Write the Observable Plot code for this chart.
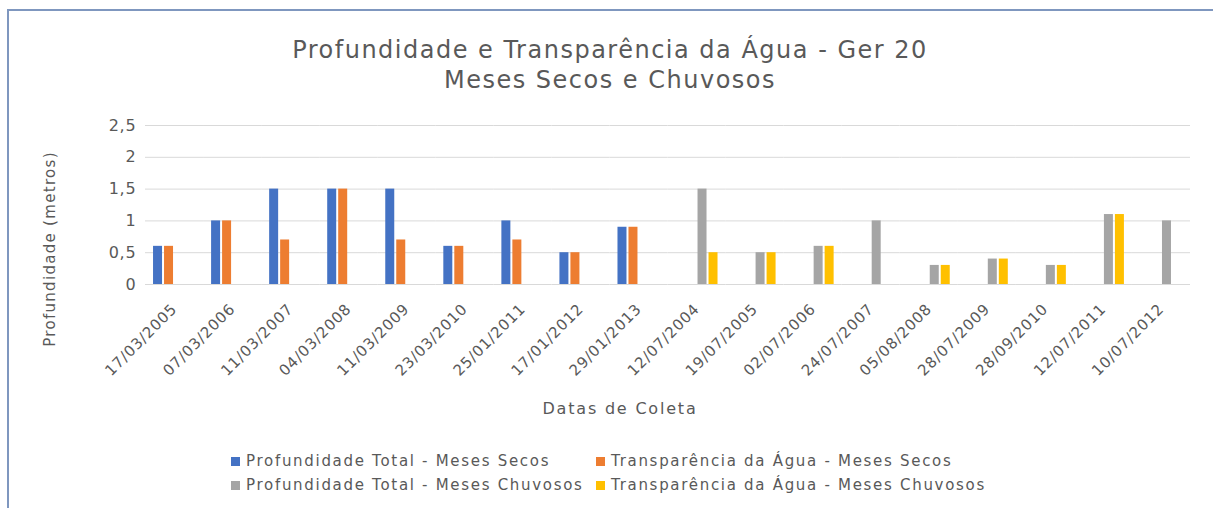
<!DOCTYPE html>
<html>
<head>
<meta charset="utf-8">
<script src="https://cdn.jsdelivr.net/npm/d3@7"></script>
<script src="https://cdn.jsdelivr.net/npm/@observablehq/plot@0.6"></script>
<style>
  html, body { margin: 0; padding: 0; background: #ffffff; }
  #wrap { position: relative; width: 1213px; height: 508px; overflow: hidden; font-family: "DejaVu Sans", sans-serif; color: #595959; }
  #frame { position: absolute; left: 7px; top: 9px; width: 1220px; height: 520px; border-top: 2px solid #7f97bf; border-left: 2px solid #7f97bf; box-sizing: border-box; }
  .title { position: absolute; left: 0; width: 1220px; text-align: center; font-size: 24px; letter-spacing: 1.5px; color: #595959; white-space: nowrap; }
  #ylabel { position: absolute; left: 50px; top: 249px; transform: translate(-50%, -50%) rotate(-90deg); font-size: 15px; letter-spacing: 1.3px; white-space: nowrap; }
  #xlabel { position: absolute; left: 620px; top: 408px; transform: translate(-50%, -50%); font-size: 16px; letter-spacing: 1.8px; white-space: nowrap; }
  #chart { position: absolute; left: 0; top: 110px; }
  #chart svg text { letter-spacing: 0.8px; }
  #legend { position: absolute; left: 231px; top: 452px; display: grid; grid-template-columns: 365px auto; row-gap: 6px; font-size: 15px; letter-spacing: 1.7px; }
  .item { display: flex; align-items: center; white-space: nowrap; }
  .sw { width: 9px; height: 9px; margin-right: 6px; display: inline-block; }
</style>
</head>
<body>
<div id="wrap">
  <div id="frame"></div>
  <div class="title" style="top:36px">Profundidade e Transparência da Água - Ger 20</div>
  <div class="title" style="top:66px">Meses Secos e Chuvosos</div>
  <div id="ylabel">Profundidade (metros)</div>
  <div id="chart"></div>
  <div id="xlabel">Datas de Coleta</div>
  <div id="legend"></div>
</div>
<script>
// Categories (collection dates)
const dates = [
  "17/03/2005", "07/03/2006", "11/03/2007", "04/03/2008", "11/03/2009",
  "23/03/2010", "25/01/2011", "17/01/2012", "29/01/2013",
  "12/07/2004", "19/07/2005", "02/07/2006", "24/07/2007", "05/08/2008",
  "28/07/2009", "28/09/2010", "12/07/2011", "10/07/2012"
];
// Series
const seriesNames = [
  "Profundidade Total - Meses Secos",
  "Transparência da Água - Meses Secos",
  "Profundidade Total - Meses Chuvosos",
  "Transparência da Água - Meses Chuvosos"
];
const profSecos = [0.6, 1.0, 1.5, 1.5, 1.5, 0.6, 1.0, 0.5, 0.9, null, null, null, null, null, null, null, null, null];
const transpSecos = [0.6, 1.0, 0.7, 1.5, 0.7, 0.6, 0.7, 0.5, 0.9, null, null, null, null, null, null, null, null, null];
const profChuvosos = [null, null, null, null, null, null, null, null, null, 1.5, 0.5, 0.6, 1.0, 0.3, 0.4, 0.3, 1.1, 1.0];
const transpChuvosos = [null, null, null, null, null, null, null, null, null, 0.5, 0.5, 0.6, null, 0.3, 0.4, 0.3, 1.1, null];
const seriesColors = ["#4472C4", "#ED7D31", "#A5A5A5", "#FFC000"];
const yTicks = [0, 0.5, 1, 1.5, 2, 2.5];

const seriesValues = [profSecos, transpSecos, profChuvosos, transpChuvosos];
const rows = [];
dates.forEach((d, i) => {
  seriesValues.forEach((vals, s) => {
    if (vals[i] != null) rows.push({date: d, series: seriesNames[s], value: vals[i]});
  });
});

const fmt = v => String(v).replace(".", ",");

const plot = Plot.plot({
  width: 1213,
  height: 320,
  marginLeft: 145,
  marginRight: 23,
  marginTop: 15,
  marginBottom: 146,
  style: {fontFamily: "DejaVu Sans, sans-serif", fontSize: "15px", color: "#595959", background: "transparent", overflow: "visible"},
  facet: {data: rows, x: "date"},
  fx: {domain: dates, paddingInner: 0, paddingOuter: 0, round: false, label: null, tickRotate: -45, tickSize: 0, tickPadding: 22},
  x: {domain: seriesNames, paddingInner: 0, paddingOuter: 0.64, round: false, axis: null},
  y: {domain: [0, 2.5], ticks: yTicks, tickFormat: fmt, tickSize: 0, tickPadding: 9, label: null},
  color: {domain: seriesNames, range: seriesColors},
  marks: [
    Plot.ruleY(yTicks, {stroke: "#d9d9d9", strokeWidth: 1}),
    Plot.barY(rows, {x: "series", y: "value", fill: "series", insetLeft: 1, insetRight: 1})
  ]
});
d3.select(plot).selectAll("[aria-label='y-axis'] text, [aria-label='y-axis tick label'] text").style("font-size", "16px");
document.getElementById("chart").appendChild(plot);

const legend = document.getElementById("legend");
seriesNames.forEach((name, i) => {
  const item = document.createElement("div");
  item.className = "item";
  const sw = document.createElement("span");
  sw.className = "sw";
  sw.style.background = seriesColors[i];
  item.appendChild(sw);
  item.appendChild(document.createTextNode(name));
  legend.appendChild(item);
});
</script>
</body>
</html>
